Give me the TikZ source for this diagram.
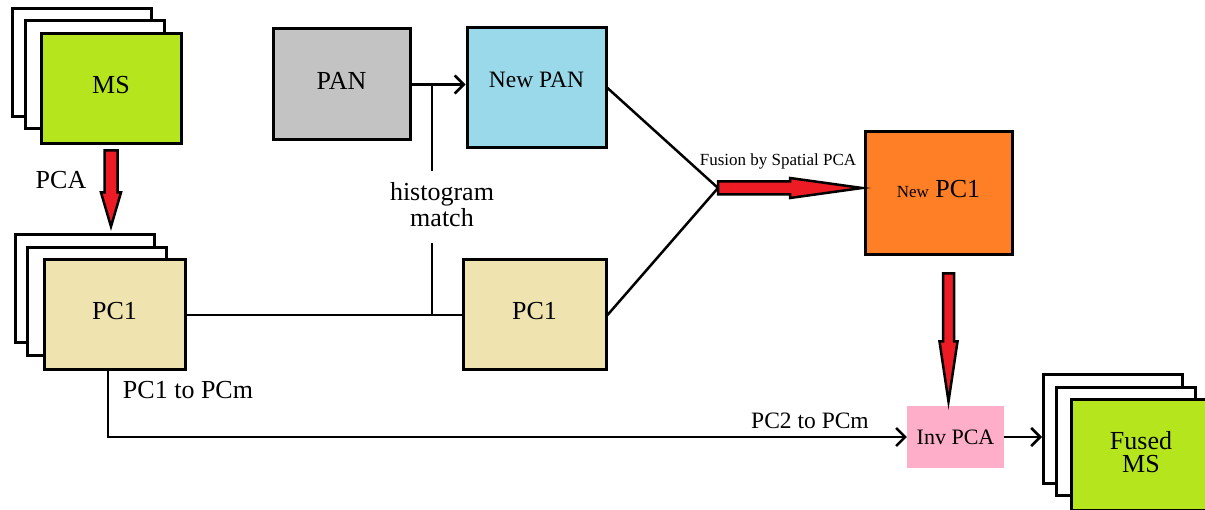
\documentclass[tikz,border=0pt]{standalone}
\usepackage{fontspec}
\setmainfont{Liberation Serif}
\usetikzlibrary{arrows.meta}
\definecolor{msgreen}{HTML}{B5E61D}
\definecolor{pctan}{HTML}{EFE4B0}
\definecolor{pangray}{HTML}{C3C3C3}
\definecolor{panblue}{HTML}{99D9EA}
\definecolor{pcorange}{HTML}{FF7F27}
\definecolor{invpink}{HTML}{FFAEC9}
\definecolor{blockred}{HTML}{ED1C24}
\begin{document}
\begin{tikzpicture}[x=1pt,y=1pt,
  every node/.style={font=\fontsize{26}{28}\selectfont},
  sheet/.style={draw,line width=3pt,fill=white,minimum width=139pt,minimum height=108pt,inner sep=0pt},
  box/.style={draw,line width=3pt,inner sep=0pt},
  link/.style={line width=2.5pt},
  arr/.style={-{Straight Barb[length=9pt,width=18pt]}},
  redarrow/.style={draw,line width=2.5pt,fill=blockred,line join=miter}]
\useasboundingbox (0,0) rectangle (1205,-510);
\foreach \n/\x/\y in {msb/82/-63,msm/94.5/-75,pcb/85/-289,pcm/97/-302,fub/1113/-429,fum/1125.5/-441.5}
	\node[sheet] (\n) at (\x,\y) {};
\node[box,fill=msgreen,minimum width=140pt,minimum height=110pt,text depth=8pt] (ms) at (111,-89) {MS};
\node[box,fill=pctan,minimum width=141pt,minimum height=110pt,text depth=8pt] (pc1) at (114.5,-315) {PC1};
\node[box,fill=pangray,minimum width=137pt,minimum height=111pt,text depth=8pt] (pan) at (341.5,-84.5) {PAN};
\node[box,fill=panblue,minimum width=139pt,minimum height=120pt,text depth=16pt] (npan) at (536.5,-88) {\fontsize{23.5}{25}\selectfont New PAN};
\node[box,fill=pctan,minimum width=143pt,minimum height=110pt,text depth=8pt] (pc1r) at (534.5,-315) {PC1};
\node[box,fill=pcorange,minimum width=147pt,minimum height=123pt,text depth=10pt] (npc1) at (938.5,-193.5) {{\fontsize{17}{19}\selectfont New} PC1};
\node[fill=invpink,minimum width=97pt,minimum height=62pt,inner sep=0pt] (inv) at (955.5,-437) {\fontsize{22}{24}\selectfont Inv PCA};
\node[box,fill=msgreen,minimum width=140pt,minimum height=110pt,align=center,text depth=6pt,font=\fontsize{26}{23.5}\selectfont] (fused) at (1141,-455) {Fused\\MS};
\node (pcalbl) at (61,-180) {PCA};
\node[align=center,inner ysep=8pt,font=\fontsize{26}{26}\selectfont] (hist) at (442,-205) {histogram\\match};
\node (pcmlbl) at (188,-390) {PC1 to PCm};
\node (pc2lbl) at (810,-421) {\fontsize{23.5}{25}\selectfont PC2 to PCm};
\node (fuslbl) at (778,-161) {\fontsize{17}{19}\selectfont Fusion by Spatial PCA};
\coordinate (hmtop) at (432,-84.5);
\coordinate (hmbot) at (432,-315);
\coordinate (fuse) at (718,-188);
\draw[link,arr] (pan.east) -- (pan.east -| npan.west);
\draw[link] (hmtop) -- ([yshift=4pt]hmtop |- hist.north);
\draw[link] ([yshift=-8pt]hmbot |- hist.south) -- (hmbot);
\draw[link] (pc1.east) -- (pc1r.west);
\draw[link] (npan.east) -- (fuse) -- (pc1r.east);
\draw[link,arr] ([xshift=-6.5pt]pc1.south) |- (inv.west);
\draw[link,arr] (inv.east) -- (inv.east -| fub.west);
\draw[redarrow] ([xshift=-6.5pt,yshift=-5pt]ms.south) -- ++(0,-42) -- ++(-3.5,0) -- ++(10,-34) -- ++(10,34) -- ++(-3.5,0) -- ++(0,42) -- cycle;
\draw[redarrow] ([yshift=6.5pt]fuse) -- ++(72,0) -- ++(0,3.5) -- ++(72,-10) -- ++(-72,-10) -- ++(0,3.5) -- ++(-72,0) -- cycle;
\draw[redarrow] ([xshift=4.5pt,yshift=-17pt]npc1.south) -- ++(0,-68) -- ++(-3.5,0) -- ++(9,-60) -- ++(9,60) -- ++(-3.5,0) -- ++(0,68) -- cycle;
\end{tikzpicture}
\end{document}
